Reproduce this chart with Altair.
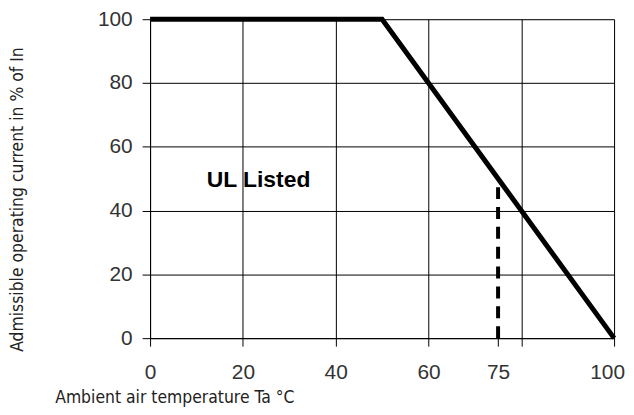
import altair as alt
import pandas as pd

# Derating curve
temp = [0, 50, 100]
current = [100, 100, 0]

# Dashed marker at 75 °C
marker_x = [75]
marker_y0 = [0]
marker_y1 = [50]

# Annotation
note_text = ["UL Listed"]
note_x = [12.2]
note_y = [47.5]

x_ticks = [0, 20, 40, 60, 75, 80, 100]
y_ticks = [0, 20, 40, 60, 80, 100]

curve = pd.DataFrame({"t": temp, "c": current})
marker = pd.DataFrame({"t": marker_x, "y0": marker_y0, "y1": marker_y1})
note = pd.DataFrame({"t": note_x, "c": note_y, "txt": note_text})

label_font = "Liberation Sans"
title_font = "Liberation Sans Narrow, DejaVu Sans Condensed, sans-serif"

x_scale = alt.Scale(domain=[0, 100], nice=False, zero=False)
y_scale = alt.Scale(domain=[0, 100], nice=False, zero=False)

x_axis = alt.Axis(
    values=x_ticks,
    title="Ambient air temperature Ta °C",
    labelExpr="datum.value == 80 ? '' : datum.label",
    labelOffset={"condition": {"test": "datum.value == 100", "value": -7}, "value": 0},
    gridOpacity={"condition": {"test": "datum.value == 75", "value": 0}, "value": 1},
    grid=True, gridColor="black", gridWidth=1,
    domainColor="black", domainWidth=1,
    tickColor="black", tickSize=8, tickWidth=1,
    labelFont=label_font, labelFontSize=21, labelColor="#333",
    labelPadding=16, labelFlush=False,
    titleFont=title_font, titleFontSize=17.5, titleFontWeight="normal", titleColor="#222",
    titleAnchor=None, titleAlign="left", titleBaseline="alphabetic",
    titleX=-96, titleY=65,
)
y_axis = alt.Axis(
    values=y_ticks,
    title="Admissible operating current in % of In",
    grid=True, gridColor="black", gridWidth=1,
    domainColor="black", domainWidth=1,
    tickColor="black", tickSize=8, tickWidth=1,
    labelFont=label_font, labelFontSize=21, labelColor="#333",
    labelPadding=10, labelFlush=False,
    titleFont=title_font, titleFontSize=17.5, titleFontWeight="normal", titleColor="#222",
    titleAngle=270, titleAlign="center", titleBaseline="middle",
    titleX=-133, titleY=181,
)

line = alt.Chart(curve).mark_line(color="black", strokeWidth=5, strokeCap="butt", strokeJoin="miter", clip=False).encode(
    x=alt.X("t:Q", scale=x_scale, axis=x_axis),
    y=alt.Y("c:Q", scale=y_scale, axis=y_axis),
)

dash = alt.Chart(marker).mark_rule(color="black", strokeWidth=4, strokeDash=[12, 8]).encode(
    x=alt.X("t:Q", scale=x_scale),
    y=alt.Y("y0:Q", scale=y_scale),
    y2="y1:Q",
)

text = alt.Chart(note).mark_text(
    align="left", baseline="alphabetic", font="Liberation Sans", fontSize=23, fontWeight="bold", color="black"
).encode(
    x=alt.X("t:Q", scale=x_scale),
    y=alt.Y("c:Q", scale=y_scale),
    text="txt:N",
)

chart = alt.layer(dash, line, text).properties(
    width=467, height=321,
    autosize=alt.AutoSizeParams(type="none"),
    padding={"left": 143, "top": 10, "right": 12, "bottom": 68},
).configure_view(stroke=None).configure(background="white")

chart.save("out.html", embed_options={"renderer": "svg", "actions": False})
